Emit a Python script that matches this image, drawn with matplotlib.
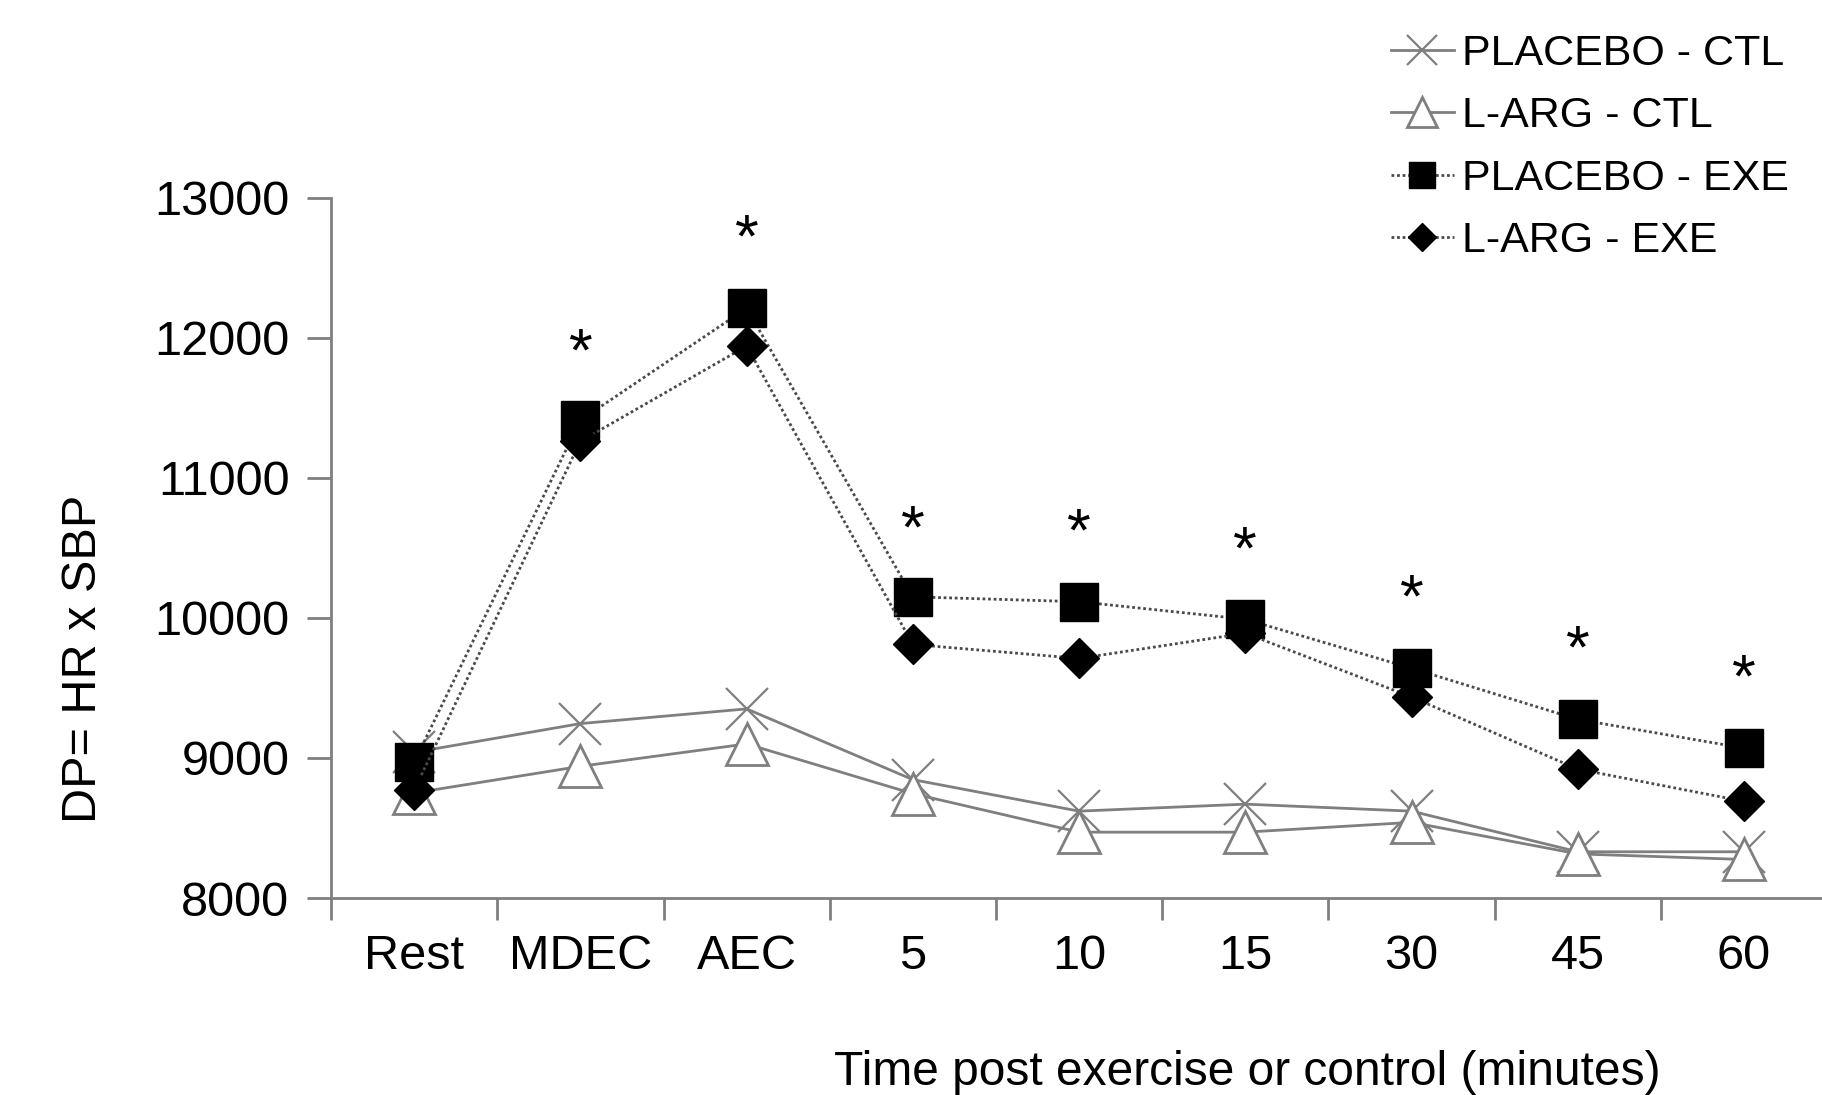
import numpy as np
import matplotlib.pyplot as plt

plt.rcParams['font.family'] = ['Liberation Sans', 'DejaVu Sans']

# 1. Data
times = ["Rest", "MDEC", "AEC", "5", "10", "15", "30", "45", "60"]

placebo_ctl = [9040, 9245, 9350, 8845, 8620, 8670, 8620, 8330, 8330]
larg_ctl = [8750, 8940, 9100, 8745, 8470, 8470, 8540, 8315, 8275]
placebo_exe = [8970, 11410, 12210, 10150, 10115, 9990, 9640, 9275, 9070]
larg_exe = [8770, 11260, 11940, 9810, 9710, 9890, 9435, 8920, 8690]

# significance marks (position of the asterisk above each time point)
star_idx = [1, 2, 3, 4, 5, 6, 7, 8]
star_y = [11965, 12776, 10703, 10678, 10554, 10206, 9849, 9642]

x = np.arange(len(times))

# 2. Figure
fig = plt.figure(figsize=(18.22, 10.95), dpi=100)
ax = fig.add_axes([0.1817, 0.1799, 0.8211, 0.6397])

gray = '#7f7f7f'
dark = '#4a4a4a'

ax.plot(x, placebo_ctl, color=gray, lw=2, marker='x', ms=30, mew=1.6,
        mec=gray, label="PLACEBO - CTL", zorder=3)
ax.plot(x, larg_ctl, color=gray, lw=2, marker='^', ms=30, mew=2,
        mfc='white', mec=gray, label="L-ARG - CTL", zorder=3)
ax.plot(x, placebo_exe, color=dark, lw=2, ls=(0, (1, 1)), marker='s', ms=27,
        mfc='black', mec='black', label="PLACEBO - EXE", zorder=4)
ax.plot(x, larg_exe, color=dark, lw=2, ls=(0, (1, 1)), marker='D', ms=20,
        mfc='black', mec='black', label="L-ARG - EXE", zorder=4)

# asterisk glyph sits high in its box, shift it down a little
for i, yv in zip(star_idx, star_y):
    ax.annotate("*", (x[i], yv), xytext=(0, -9), textcoords='offset points',
                ha='center', va='center', fontsize=44)

# 3. Axes styling
ax.set_xlim(-0.5, len(times) - 0.5)
ax.set_ylim(8000, 13000)
ax.set_yticks(np.arange(8000, 13001, 1000))
ax.set_xticks(np.arange(-0.5, len(times), 1.0))
ax.set_xticklabels([])
ax.set_xticks(x, minor=True)
ax.set_xticklabels(times, minor=True)
ax.tick_params(axis='x', which='minor', length=0, pad=26, labelsize=35)
ax.tick_params(axis='x', which='major', length=16, width=2, color=gray)
ax.tick_params(axis='y', length=17, width=2, color=gray, labelsize=35, pad=13)

for side in ['top', 'right']:
    ax.spines[side].set_visible(False)
for side in ['left', 'bottom']:
    ax.spines[side].set_color(gray)
    ax.spines[side].set_linewidth(2)

# 4. Labels
fig.text(0.046, 0.398, "DP= HR x SBP", rotation=90, ha='center', va='center',
         fontsize=35)
fig.text(0.6845, 0.021, "Time post exercise or control (minutes)",
         ha='center', va='center', fontsize=34.5)

fig.legend(loc='upper left', bbox_to_anchor=(0.7635, 0.969), frameon=False,
           fontsize=31, handlelength=1.45, handletextpad=0.2,
           labelspacing=0.52, borderpad=0, borderaxespad=0, markerscale=0.7)

# 5. Save
plt.savefig("out.png", dpi=100)
